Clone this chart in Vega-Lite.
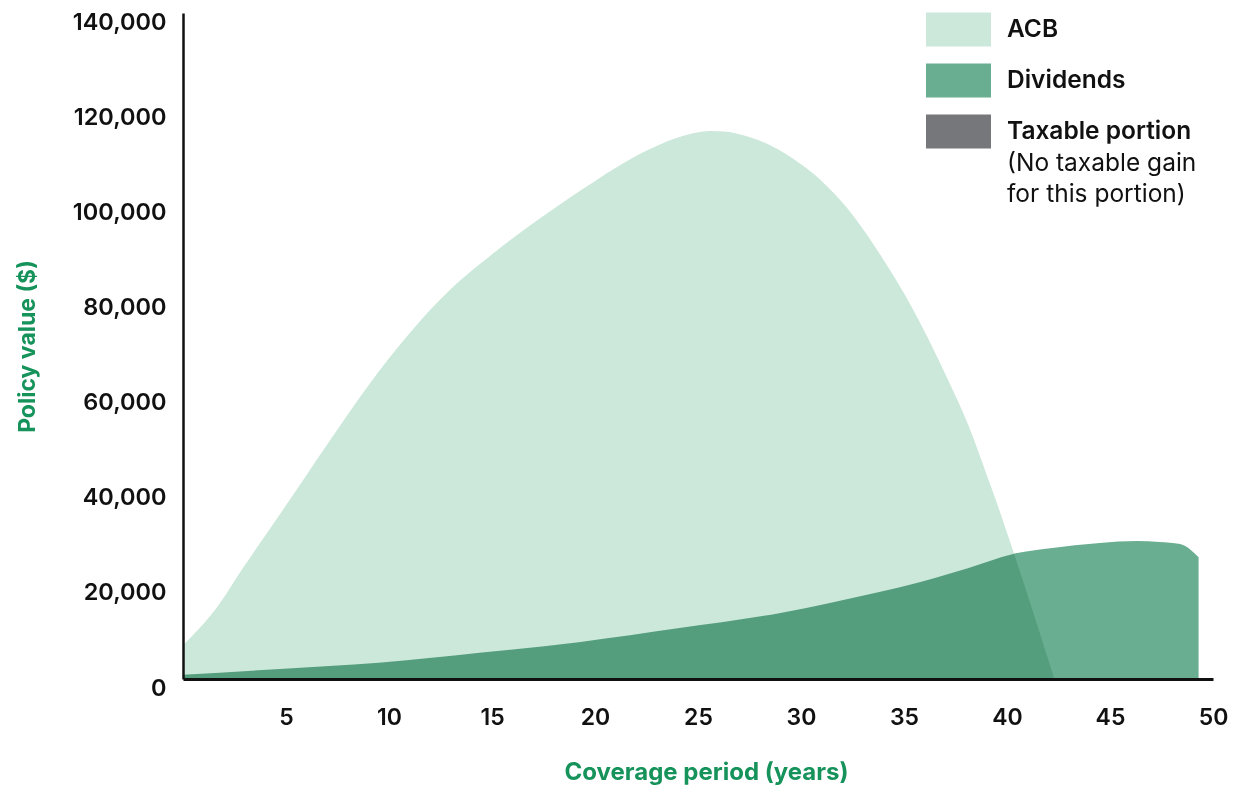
{
  "$schema": "https://vega.github.io/schema/vega-lite/v6.json",
  "width": 1030,
  "height": 666,
  "autosize": {"type": "none"},
  "padding": {"left": 183, "top": 13, "right": 36, "bottom": 109},
  "background": "white",
  "config": {"view": {"stroke": null}, "font": "Inter"},
  "data": {
    "values": [
      {"year": 0, "series": "ACB", "value": 7100},
      {"year": 1.55, "series": "ACB", "value": 14500},
      {"year": 3, "series": "ACB", "value": 23900},
      {"year": 5, "series": "ACB", "value": 36500},
      {"year": 7, "series": "ACB", "value": 49300},
      {"year": 9, "series": "ACB", "value": 61700},
      {"year": 10, "series": "ACB", "value": 67400},
      {"year": 11, "series": "ACB", "value": 72700},
      {"year": 12, "series": "ACB", "value": 77600},
      {"year": 13, "series": "ACB", "value": 82000},
      {"year": 14.58, "series": "ACB", "value": 87800},
      {"year": 16.2, "series": "ACB", "value": 93300},
      {"year": 17.82, "series": "ACB", "value": 98300},
      {"year": 19.44, "series": "ACB", "value": 103100},
      {"year": 21.05, "series": "ACB", "value": 107600},
      {"year": 22.67, "series": "ACB", "value": 111400},
      {"year": 24.29, "series": "ACB", "value": 114200},
      {"year": 25.58, "series": "ACB", "value": 115200},
      {"year": 26.4, "series": "ACB", "value": 115050},
      {"year": 27.2, "series": "ACB", "value": 114300},
      {"year": 28.5, "series": "ACB", "value": 112200},
      {"year": 30, "series": "ACB", "value": 108200},
      {"year": 31, "series": "ACB", "value": 104700},
      {"year": 32.2, "series": "ACB", "value": 99200},
      {"year": 33.8, "series": "ACB", "value": 89500},
      {"year": 35.4, "series": "ACB", "value": 78000},
      {"year": 37.1, "series": "ACB", "value": 63200},
      {"year": 38.1, "series": "ACB", "value": 53600},
      {"year": 39.0, "series": "ACB", "value": 43100},
      {"year": 39.7, "series": "ACB", "value": 34600},
      {"year": 40.3, "series": "ACB", "value": 26900},
      {"year": 42.3, "series": "ACB", "value": 0},
      {"year": 0, "series": "Dividends", "value": 900},
      {"year": 4.7, "series": "Dividends", "value": 2100},
      {"year": 9.5, "series": "Dividends", "value": 3400},
      {"year": 14.4, "series": "Dividends", "value": 5500},
      {"year": 19.3, "series": "Dividends", "value": 7800},
      {"year": 24.1, "series": "Dividends", "value": 10700},
      {"year": 29.0, "series": "Dividends", "value": 13900},
      {"year": 31.4, "series": "Dividends", "value": 16000},
      {"year": 33.8, "series": "Dividends", "value": 18300},
      {"year": 35.8, "series": "Dividends", "value": 20400},
      {"year": 38.1, "series": "Dividends", "value": 23300},
      {"year": 40.3, "series": "Dividends", "value": 26300},
      {"year": 42.1, "series": "Dividends", "value": 27500},
      {"year": 44.5, "series": "Dividends", "value": 28600},
      {"year": 46.3, "series": "Dividends", "value": 29000},
      {"year": 47.4, "series": "Dividends", "value": 28800},
      {"year": 48.4, "series": "Dividends", "value": 28400},
      {"year": 49.3, "series": "Dividends", "value": 25600}
    ]
  },
  "mark": {"type": "area", "blend": "multiply", "interpolate": "monotone"},
  "encoding": {
    "x": {
      "field": "year",
      "type": "quantitative",
      "scale": {"domain": [0, 50], "nice": false, "zero": false},
      "axis": {
        "title": "Coverage period (years)",
        "values": [5, 10, 15, 20, 25, 30, 35, 40, 45, 50],
        "grid": false,
        "ticks": false,
        "tickSize": 0,
        "zindex": 1,
        "domainColor": "#111111",
        "domainWidth": 3,
        "labelFont": "Inter",
        "labelFontSize": 23,
        "labelFontWeight": 600,
        "labelColor": "#111111",
        "labelPadding": 27,
        "labelFlush": false,
        "titleFont": "Inter",
        "titleFontSize": 24,
        "titleFontWeight": 700,
        "titleColor": "#16925b",
        "titlePadding": 31,
        "titleX": 523
      }
    },
    "y": {
      "field": "value",
      "type": "quantitative",
      "stack": null,
      "scale": {"domain": [0, 140000], "nice": false},
      "axis": {
        "title": "Policy value ($)",
        "values": [0, 20000, 40000, 60000, 80000, 100000, 120000, 140000],
        "format": ",.0f",
        "grid": false,
        "ticks": false,
        "tickSize": 0,
        "zindex": 1,
        "domainColor": "#111111",
        "domainWidth": 2.5,
        "labelFont": "Inter",
        "labelFontSize": 23.5,
        "labelFontWeight": 600,
        "labelColor": "#111111",
        "labelOffset": 9,
        "labelPadding": 17,
        "labelFlush": false,
        "titleFont": "Inter",
        "titleFontSize": 23,
        "titleFontWeight": 700,
        "titleColor": "#16925b",
        "titlePadding": 33
      }
    },
    "color": {
      "field": "series",
      "type": "nominal",
      "scale": {
        "domain": ["ACB", "Dividends", "Taxable portion", "(No taxable gain for this portion)"],
        "range": ["#cce8da", "#6aae92", "#76777b", "rgba(0,0,0,0)"]
      },
      "legend": {
        "orient": "none",
        "legendX": 743,
        "legendY": -16,
        "title": null,
        "padding": 0,
        "symbolType": "M-1,-0.523H1V0.523H-1Z",
        "symbolSize": 4225,
        "symbolStrokeWidth": 0,
        "symbolOpacity": 1,
        "rowPadding": 1,
        "labelOffset": 16,
        "labelFont": "Inter",
        "labelFontSize": 24.5,
        "labelColor": "#111111",
        "labelLimit": 400,
        "labelExpr": "datum.label == '(No taxable gain for this portion)' ? ['(No taxable gain', 'for this portion)'] : datum.label",
        "encode": {
          "labels": {
            "update": {
              "fontWeight": {"signal": "datum.index == 3 ? 400 : 600"},
              "lineHeight": {"value": 31},
              "dy": {"signal": "datum.index == 3 ? -19 : 0"}
            }
          }
        }
      }
    }
  }
}
